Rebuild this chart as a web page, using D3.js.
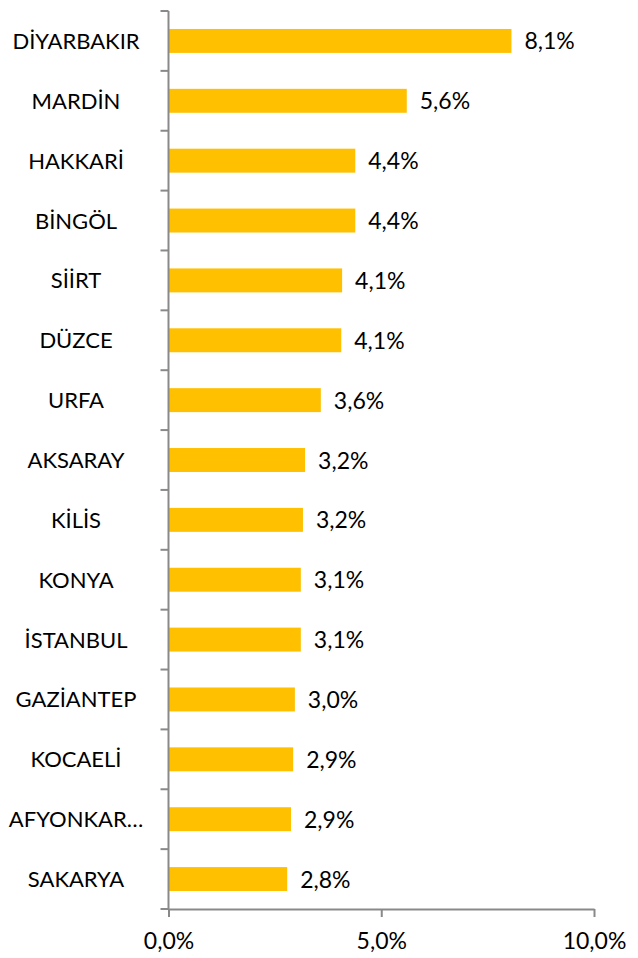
<!DOCTYPE html>
<html>
<head>
<meta charset="utf-8">
<script src="https://cdn.jsdelivr.net/npm/d3@7"></script>
<style>
  body { margin: 0; background: #fff; }
  svg text { font-family: Lato, "Open Sans", sans-serif; fill: #000; }
</style>
</head>
<body>
<svg id="chart" width="638" height="958"></svg>
<script>
// provinces, top to bottom
const provinces = ["DİYARBAKIR", "MARDİN", "HAKKARİ", "BİNGÖL", "SİİRT", "DÜZCE", "URFA", "AKSARAY",
	"KİLİS", "KONYA", "İSTANBUL", "GAZİANTEP", "KOCAELİ", "AFYONKAR…", "SAKARYA"];
// share in percent
const shares = [8.06, 5.6, 4.39, 4.39, 4.08, 4.06, 3.58, 3.21, 3.16, 3.11, 3.11, 2.97, 2.93, 2.88, 2.79];
const xTicks = [0, 5, 10];

const data = provinces.map((p, i) => ({ name: p, value: shares[i] }));

const svg = d3.select("#chart");
const axisColor = "#898989";

const trLocale = d3.formatLocale({ decimal: ",", thousands: ".", grouping: [3], currency: ["", "₺"] });
const fmt = trLocale.format(".1f");

const x = d3.scaleLinear().domain([0, 10]).range([168.5, 594]);
const y = d3.scaleBand().domain(provinces).range([11, 909]).paddingInner(0.6).paddingOuter(0.3);

// bars
svg.selectAll(".bar")
	.data(data)
	.enter()
	.append("rect")
	.attr("class", "bar")
	.attr("x", x(0))
	.attr("y", d => y(d.name))
	.attr("width", d => x(d.value) - x(0))
	.attr("height", y.bandwidth())
	.attr("fill", "#FFC000");

// value labels
svg.selectAll(".val")
	.data(data)
	.enter()
	.append("text")
	.attr("class", "val")
	.attr("x", d => x(d.value) + 13)
	.attr("y", d => y(d.name) + y.bandwidth() / 2 + 8.5)
	.attr("font-size", 23)
	.text(d => fmt(d.value) + "%");

// category axis: line plus outward ticks on band edges
const edges = d3.range(provinces.length + 1).map(i => 11 + i * (898 / provinces.length));
svg.append("line")
	.attr("x1", x(0)).attr("x2", x(0))
	.attr("y1", 11).attr("y2", 909)
	.attr("stroke", axisColor).attr("stroke-width", 2);
svg.selectAll(".ytick")
	.data(edges)
	.enter()
	.append("line")
	.attr("x1", x(0) - 8).attr("x2", x(0))
	.attr("y1", d => d).attr("y2", d => d)
	.attr("stroke", axisColor).attr("stroke-width", 2);

svg.selectAll(".cat")
	.data(data)
	.enter()
	.append("text")
	.attr("class", "cat")
	.attr("x", 76)
	.attr("y", d => y(d.name) + y.bandwidth() / 2 + 8)
	.attr("text-anchor", "middle")
	.attr("font-size", 22)
	.text(d => d.name);

// value axis
const xAxis = d3.axisBottom(x)
	.tickValues(xTicks)
	.tickSize(8)
	.tickSizeOuter(0)
	.tickFormat(d => fmt(d) + "%");
const gx = svg.append("g")
	.attr("transform", "translate(0,909)")
	.call(xAxis);
gx.select(".domain").attr("stroke", axisColor).attr("stroke-width", 2);
gx.selectAll(".tick line").attr("stroke", axisColor).attr("stroke-width", 2);
gx.selectAll(".tick text")
	.attr("font-size", 23)
	.attr("font-family", "Lato, sans-serif")
	.attr("fill", "#000")
	.attr("dy", null)
	.attr("y", 40);
</script>
</body>
</html>
